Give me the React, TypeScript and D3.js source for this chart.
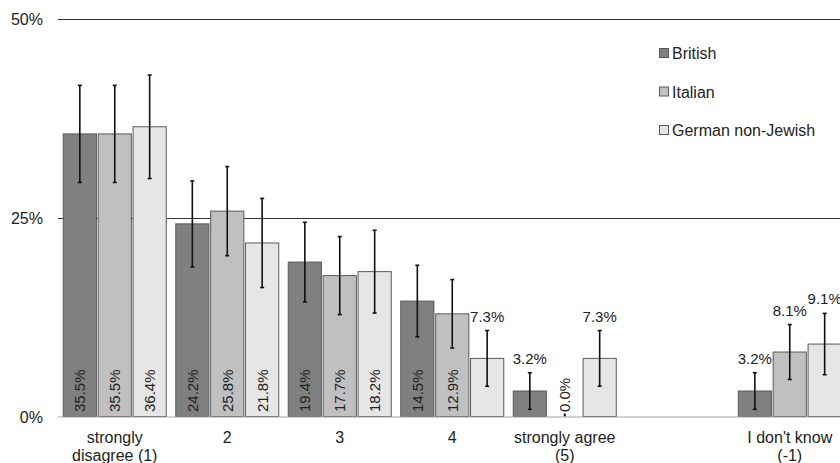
import React from "react";
import * as d3 from "d3";

const categories = ["strongly|disagree (1)", "2", "3", "4", "strongly agree|(5)", "", "I don't know|(-1)"];
const series = ["British", "Italian", "German non-Jewish"];
const british = [35.5, 24.2, 19.4, 14.5, 3.2, null, 3.2];
const italian = [35.5, 25.8, 17.7, 12.9, 0.0, null, 8.1];
const german = [36.4, 21.8, 18.2, 7.3, 7.3, null, 9.1];
const britishErr = [6.1, 5.4, 5.0, 4.5, 2.3, null, 2.3];
const italianErr = [6.1, 5.6, 4.9, 4.3, 0.0, null, 3.45];
const germanErr = [6.5, 5.6, 5.2, 3.5, 3.5, null, 3.85];
const yTicks = [0, 25, 50];

const colors = ["#808080", "#c0c0c0", "#e6e6e6"];
const values = [british, italian, german];
const errs = [britishErr, italianErr, germanErr];

export default function App() {
  const W = 840, H = 463;
  const y = d3.scaleLinear().domain([0, 50]).range([416.5, 18.5]);
  const x = d3.scaleBand<number>().domain(d3.range(categories.length)).range([58.5, 846]).paddingInner(0).paddingOuter(0);
  const inner = d3.scaleBand<number>().domain([0, 1, 2]).range([-51.5, 51.5]).paddingInner(0.05).paddingOuter(0);
  const font = "'Liberation Sans', Arial, sans-serif";
  const bw = inner.bandwidth();

  return (
    <svg width={W} height={H} style={{ position: "absolute", left: 0, top: 0, background: "#fff" }} fontFamily={font}>
      <rect width={W} height={H} fill="#fff" />
      {yTicks.map((t) => (
        <g key={t}>
          {t > 0 && <line x1={58} x2={W} y1={Math.round(y(t)) + 0.5} y2={Math.round(y(t)) + 0.5} stroke="#333" strokeWidth={1} />}
          <text x={43} y={y(t) + 6} textAnchor="end" fontSize={16} fill="#222">{t}%</text>
        </g>
      ))}
      {categories.map((c, ci) => {
        const cx = (x(ci) as number) + x.bandwidth() / 2;
        return (
          <g key={ci}>
            {series.map((s, si) => {
              const v = values[si][ci];
              if (v === null) return null;
              const e = errs[si][ci] as number;
              const bx = cx + (inner(si) as number);
              const bc = bx + bw / 2;
              const top = y(v);
              const inside = v >= 10 || v === 0;
              return (
                <g key={si}>
                  {v > 0 && (
                    <rect x={bx} y={top} width={bw} height={y(0) - top} fill={colors[si]} stroke="#5a5a5a" strokeWidth={1} />
                  )}
                  {v === 0 ? (
                    <line x1={bc} x2={bc} y1={y(0) - 3} y2={y(0)} stroke="#111" strokeWidth={2} />
                  ) : (
                    <g stroke="#111" strokeWidth={1.6}>
                      <line x1={bc} x2={bc} y1={y(v + e)} y2={y(v - e)} />
                      <line x1={bc - 2} x2={bc + 2} y1={y(v + e)} y2={y(v + e)} />
                      <line x1={bc - 2} x2={bc + 2} y1={y(v - e)} y2={y(v - e)} />
                    </g>
                  )}
                  {inside ? (
                    <text transform={`translate(${bc + 5.5},${y(0) - 4.5}) rotate(-90)`} fontSize={15} fill="#222">{v.toFixed(1)}%</text>
                  ) : (
                    <text x={bc} y={y(v + e) - 9} textAnchor="middle" fontSize={15} fill="#222">{v.toFixed(1)}%</text>
                  )}
                </g>
              );
            })}
            {c.split("|").map((line, li) => (
              <text key={li} x={cx} y={443 + li * 18} textAnchor="middle" fontSize={16} fill="#222">{line}</text>
            ))}
          </g>
        );
      })}
      <line x1={58} x2={W} y1={417} y2={417} stroke="#a6a6a6" strokeWidth={1.2} />
      {series.map((s, si) => (
        <g key={s} transform={`translate(659,${53 + si * 38.5})`}>
          <rect x={0.5} y={-4.5} width={9} height={9} fill={colors[si]} stroke="#5a5a5a" strokeWidth={1} />
          <text x={13} y={6} fontSize={16} fill="#222">{s}</text>
        </g>
      ))}
    </svg>
  );
}
